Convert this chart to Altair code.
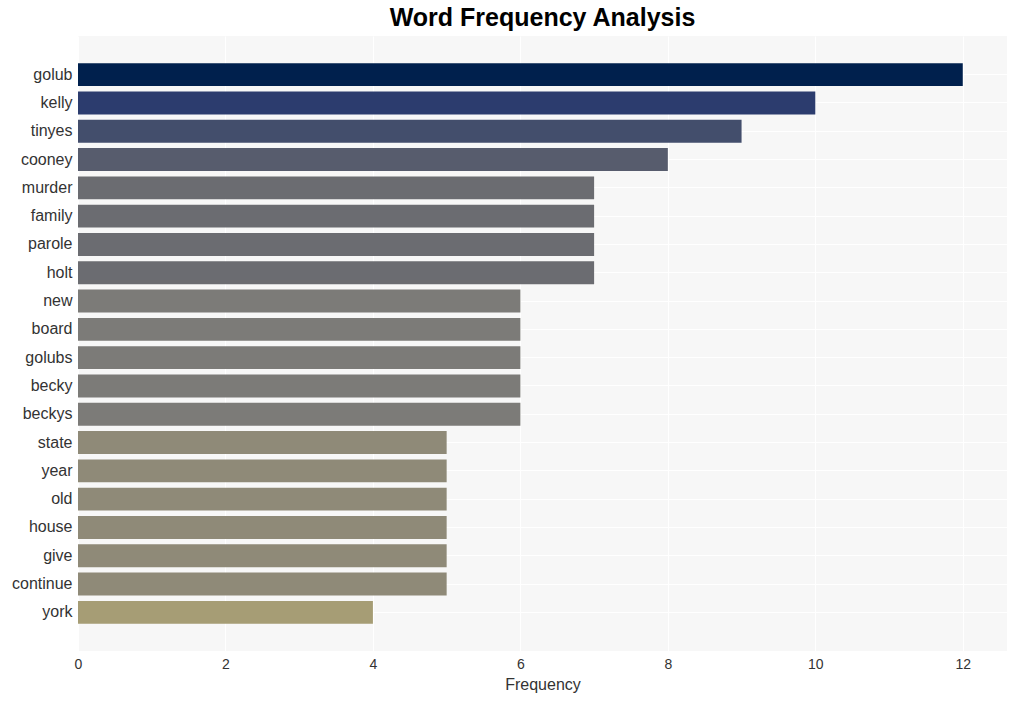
import altair as alt
import pandas as pd

words = ["golub", "kelly", "tinyes", "cooney", "murder", "family", "parole", "holt",
         "new", "board", "golubs", "becky", "beckys", "state", "year", "old", "house",
         "give", "continue", "york"]
counts = [12, 10, 9, 8, 7, 7, 7, 7, 6, 6, 6, 6, 6, 5, 5, 5, 5, 5, 5, 4]

color_values = [12, 10, 9, 8, 7, 6, 5, 4]
color_range = ["#00204D", "#2C3C6E", "#434E6C", "#575C6D", "#6B6C71", "#7C7B78", "#8F8A78", "#A69D75"]

df = pd.DataFrame({"word": words, "count": counts})

chart = alt.Chart(df).mark_bar().encode(
    x=alt.X("count:Q", title="Frequency",
            scale=alt.Scale(domain=[0, 12.6], nice=False, zero=True),
            axis=alt.Axis(values=[0, 2, 4, 6, 8, 10, 12], ticks=False, domain=False,
                          labelPadding=6, labelFontSize=14, labelColor="#333333",
                          titleFontSize=16, titleColor="#333333", titleFontWeight="normal",
                          titlePadding=5, gridColor="#FFFFFF", gridWidth=1.2, labelFlush=False)),
    y=alt.Y("word:N", sort=words, title=None,
            scale=alt.Scale(paddingInner=0.19, paddingOuter=0.96),
            axis=alt.Axis(ticks=False, domain=False, labelPadding=6, labelFontSize=16,
                          labelColor="#333333", grid=True, gridColor="#FFFFFF", gridWidth=1)),
    color=alt.Color("count:O", scale=alt.Scale(domain=color_values, range=color_range), legend=None),
).properties(
    width=929, height=615,
    background="#FFFFFF",
    autosize=alt.AutoSizeParams(type="none"),
    padding={"left": 78, "top": 36, "right": 10, "bottom": 50},
    title=alt.TitleParams("Word Frequency Analysis", fontSize=25, fontWeight="bold",
                          color="#000000", anchor="middle", offset=5, font="Liberation Sans"),
).configure(
    font="Liberation Sans"
).configure_view(
    fill="#F7F7F7", strokeWidth=0
)

chart.save("out.html", embed_options={"renderer": "svg", "actions": False})
